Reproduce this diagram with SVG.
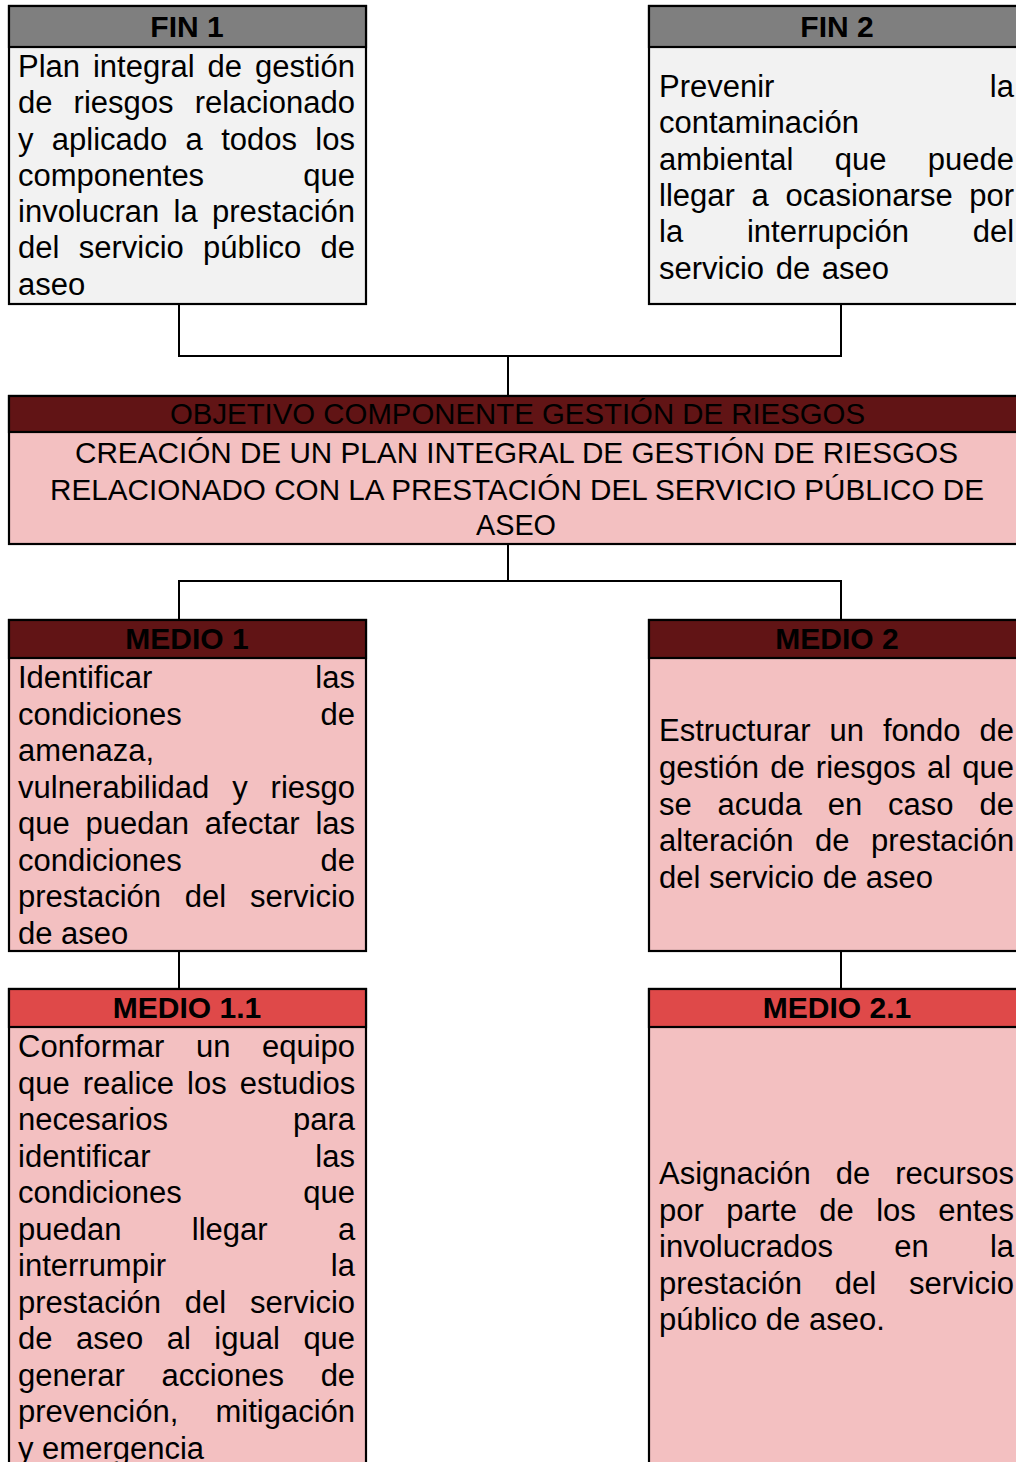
<svg xmlns="http://www.w3.org/2000/svg" width="1016" height="1462" viewBox="0 0 1016 1462">
<style>
.box{stroke:#000;stroke-width:2.2}
.hg{fill:#7f7f7f}.bg{fill:#f2f2f2}
.hd{fill:#611415}.pk{fill:#f3c0c1}.hr{fill:#df4949}
.conn{fill:none;stroke:#000;stroke-width:2}
.h{font-family:"Liberation Sans",Arial,sans-serif;font-size:30px;font-weight:bold;fill:#000;text-anchor:middle}
.t{font-family:"Liberation Sans",Arial,sans-serif;font-size:31px;fill:#000;font-kerning:none}
.e{text-anchor:end}
.o{font-family:"Liberation Sans",Arial,sans-serif;font-size:30px;fill:#000}
</style>
<rect width="1016" height="1462" fill="#fff"/>
<g id="connectors">
<path class="conn" d="M179,304 V356 H841 V304"/>
<path class="conn" d="M508,356 V396"/>
<path class="conn" d="M508,544 V581"/>
<path class="conn" d="M179,620 V581 H841 V620"/>
<path class="conn" d="M179,951 V989"/>
<path class="conn" d="M841,951 V989"/>
</g>
<g id="fin1">
<rect class="box bg" x="9" y="6" width="357" height="298"/>
<rect class="box hg" x="9" y="6" width="357" height="41"/>
<text class="h" x="187" y="37">FIN 1</text>
<text class="t" x="18" y="77" word-spacing="4.3">Plan integral de gestión</text>
<text class="t" x="18" y="113" word-spacing="12.5">de riesgos relacionado</text>
<text class="t" x="18" y="150" word-spacing="9.7">y aplicado a todos los</text>
<text class="t" x="18" y="186">componentes</text><text class="t e" x="355" y="186">que</text>
<text class="t" x="18" y="222" word-spacing="5.7">involucran la prestación</text>
<text class="t" x="18" y="258" word-spacing="10.7">del servicio público de</text>
<text class="t" x="18" y="295">aseo</text>
</g>
<g id="fin2">
<rect class="box bg" x="649" y="6" width="380" height="298"/>
<rect class="box hg" x="649" y="6" width="380" height="41"/>
<text class="h" x="837" y="37">FIN 2</text>
<text class="t" x="659" y="97">Prevenir</text><text class="t e" x="1014" y="97">la</text>
<text class="t" x="659" y="133">contaminación</text>
<text class="t" x="659" y="170" word-spacing="32.7">ambiental que puede</text>
<text class="t" x="659" y="206" word-spacing="8.1">llegar a ocasionarse por</text>
<text class="t" x="659" y="242" word-spacing="55.2">la interrupción del</text>
<text class="t" x="659" y="279" word-spacing="3">servicio de aseo</text>
</g>
<g id="objetivo">
<rect class="box pk" x="9" y="396" width="1020" height="148"/>
<rect class="box hd" x="9" y="396" width="1020" height="36"/>
<text class="o" x="170" y="424" textLength="695" lengthAdjust="spacingAndGlyphs">OBJETIVO COMPONENTE GESTIÓN DE RIESGOS</text>
<text class="o" x="75" y="463" textLength="883" lengthAdjust="spacingAndGlyphs">CREACIÓN  DE UN PLAN INTEGRAL DE GESTIÓN DE RIESGOS</text>
<text class="o" x="50" y="500" textLength="934" lengthAdjust="spacingAndGlyphs">RELACIONADO CON LA PRESTACIÓN DEL SERVICIO PÚBLICO DE</text>
<text class="o" x="476" y="535" textLength="80" lengthAdjust="spacingAndGlyphs">ASEO</text>
</g>
<g id="medio1">
<rect class="box pk" x="9" y="620" width="357" height="331"/>
<rect class="box hd" x="9" y="620" width="357" height="38"/>
<text class="h" x="187" y="649">MEDIO 1</text>
<text class="t" x="18" y="688">Identificar</text><text class="t e" x="355" y="688">las</text>
<text class="t" x="18" y="725">condiciones</text><text class="t e" x="355" y="725">de</text>
<text class="t" x="18" y="761">amenaza,</text>
<text class="t" x="18" y="798" word-spacing="14.3">vulnerabilidad y riesgo</text>
<text class="t" x="18" y="834" word-spacing="7.2">que puedan afectar las</text>
<text class="t" x="18" y="871">condiciones</text><text class="t e" x="355" y="871">de</text>
<text class="t" x="18" y="907" word-spacing="15.2">prestación del servicio</text>
<text class="t" x="18" y="944">de aseo</text>
</g>
<g id="medio2">
<rect class="box pk" x="649" y="620" width="380" height="331"/>
<rect class="box hd" x="649" y="620" width="380" height="38"/>
<text class="h" x="837" y="649">MEDIO 2</text>
<text class="t" x="659" y="741" word-spacing="10.3">Estructurar un fondo de</text>
<text class="t" x="659" y="778" word-spacing="2.6">gestión de riesgos al que</text>
<text class="t" x="659" y="815" word-spacing="17.2">se acuda en caso de</text>
<text class="t" x="659" y="851" word-spacing="13">alteración de prestación</text>
<text class="t" x="659" y="888">del servicio de aseo</text>
</g>
<g id="medio1-1">
<rect class="box pk" x="9" y="989" width="357" height="500"/>
<rect class="box hr" x="9" y="989" width="357" height="38"/>
<text class="h" x="187" y="1018">MEDIO 1.1</text>
<text class="t" x="18" y="1057" word-spacing="22.9">Conformar un equipo</text>
<text class="t" x="18" y="1094" word-spacing="4.4">que realice los estudios</text>
<text class="t" x="18" y="1130">necesarios</text><text class="t e" x="355" y="1130">para</text>
<text class="t" x="18" y="1167">identificar</text><text class="t e" x="355" y="1167">las</text>
<text class="t" x="18" y="1203">condiciones</text><text class="t e" x="355" y="1203">que</text>
<text class="t" x="18" y="1240" word-spacing="61.7">puedan llegar a</text>
<text class="t" x="18" y="1276">interrumpir</text><text class="t e" x="355" y="1276">la</text>
<text class="t" x="18" y="1313" word-spacing="15.2">prestación del servicio</text>
<text class="t" x="18" y="1349" word-spacing="14.9">de aseo al igual que</text>
<text class="t" x="18" y="1386" word-spacing="28.1">generar acciones de</text>
<text class="t" x="18" y="1422">prevención,</text><text class="t e" x="355" y="1422">mitigación</text>
<text class="t" x="18" y="1459">y emergencia</text>
</g>
<g id="medio2-1">
<rect class="box pk" x="649" y="989" width="380" height="500"/>
<rect class="box hr" x="649" y="989" width="380" height="38"/>
<text class="h" x="837" y="1018">MEDIO 2.1</text>
<text class="t" x="659" y="1184" word-spacing="16.4">Asignación de recursos</text>
<text class="t" x="659" y="1221" word-spacing="13.8">por parte de los entes</text>
<text class="t" x="659" y="1257" word-spacing="52.6">involucrados en la</text>
<text class="t" x="659" y="1294" word-spacing="24.2">prestación del servicio</text>
<text class="t" x="659" y="1330">público de aseo.</text>
</g>
</svg>
